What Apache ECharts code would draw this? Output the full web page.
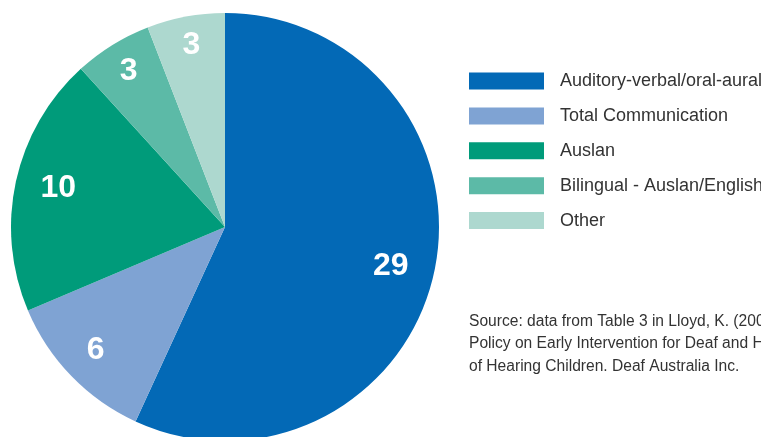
<!DOCTYPE html>
<html>
<head>
<meta charset="utf-8">
<script src="https://cdn.jsdelivr.net/npm/echarts@6/dist/echarts.min.js"></script>
<style>html,body{margin:0;padding:0;background:#fff;}#c{width:761px;height:437px;}</style>
</head>
<body>
<div id="c"></div>
<script>
const categories = ['Auditory-verbal/oral-aural','Total Communication','Auslan','Bilingual - Auslan/English','Other'];
const values = [29, 6, 10, 3, 3];
const colors = ['#0369B6','#7FA3D3','#009B7A','#5CBAA7','#ADD8CF'];
const sourceLines = ['Source: data from Table 3 in Lloyd, K. (2006)','Policy on Early Intervention for Deaf and Hard','of Hearing Children. Deaf Australia Inc.'];

const font = '"Liberation Sans", Arial, sans-serif';
const labelNudge = [[-13, 0], [2, -4], [12, 0], [0, 0], [0, -2]];
const data = categories.map((n, i) => ({name: n, value: values[i], itemStyle: {color: colors[i]}}));
const chart = echarts.init(document.getElementById('c'));
chart.setOption({
  animation: false,
  title: {
    text: sourceLines.join('\n'),
    left: 469, top: 310, padding: 0,
    textStyle: {fontFamily: font, fontSize: 15.6, fontWeight: 'normal', color: '#333', lineHeight: 22.5}
  },
  legend: {
    orient: 'vertical', left: 469, top: 72, padding: 0,
    itemWidth: 75, itemHeight: 17, itemGap: 16.9,
    icon: 'rect',
    textStyle: {fontFamily: font, fontSize: 18, color: '#333', padding: [0, 0, 0, 11]},
    data: categories
  },
  series: [
    {
      type: 'pie', center: [225, 227], radius: [0, 214],
      startAngle: 90, clockwise: true,
      label: {show: false}, labelLine: {show: false},
      emphasis: {disabled: true},
      data: data
    },
    {
      type: 'pie', center: [225, 227], radius: [146, 214],
      startAngle: 90, clockwise: true, silent: true,
      itemStyle: {color: 'transparent'},
      label: {show: true, position: 'inside', formatter: '{c}', color: '#fff', fontFamily: font, fontSize: 32, fontWeight: 'bold'},
      labelLine: {show: false},
      labelLayout: function (p) { const d = labelNudge[p.dataIndex]; return {dx: d[0], dy: d[1]}; },
      emphasis: {disabled: true},
      legendHoverLink: false,
      data: categories.map((n, i) => ({name: n + ' ', value: values[i]}))
    }
  ]
});
</script>
</body>
</html>
